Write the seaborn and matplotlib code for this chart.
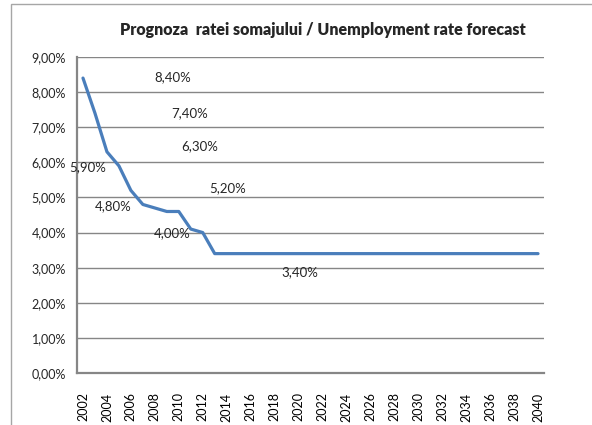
import numpy as np
import pandas as pd
import matplotlib
matplotlib.use("Agg")
import matplotlib.pyplot as plt
import seaborn as sns
from matplotlib.patches import Rectangle
from matplotlib.ticker import FuncFormatter, FixedLocator

# date
years = [2002, 2003, 2004, 2005, 2006, 2007, 2008, 2009, 2010, 2011, 2012,
         2013, 2014, 2015, 2016, 2017, 2018, 2019, 2020, 2021, 2022, 2023,
         2024, 2025, 2026, 2027, 2028, 2029, 2030, 2031, 2032, 2033, 2034,
         2035, 2036, 2037, 2038, 2039, 2040]
rate = [8.4, 7.4, 6.3, 5.9, 5.2, 4.8, 4.7, 4.6, 4.6, 4.1, 4.0,
        3.4, 3.4, 3.4, 3.4, 3.4, 3.4, 3.4, 3.4, 3.4, 3.4, 3.4,
        3.4, 3.4, 3.4, 3.4, 3.4, 3.4, 3.4, 3.4, 3.4, 3.4, 3.4,
        3.4, 3.4, 3.4, 3.4, 3.4, 3.4]
labelled_years = [2002, 2003, 2004, 2005, 2006, 2007, 2012, 2013]
title = "Prognoza  ratei somajului / Unemployment rate forecast"

sns.set_style("white")
plt.rcParams["font.family"] = ["Lato", "DejaVu Sans"]

df = pd.DataFrame({"an": years, "rata": rate})

fig = plt.figure(figsize=(5.92, 4.25), dpi=100)
ax = fig.add_axes([77 / 592, 1 - 373 / 425, 467 / 592, 316 / 425])

grid_col = "#868686"
sns.lineplot(data=df, x="an", y="rata", ax=ax, color="#4a7ebb", linewidth=2.3)

ax.set_xlim(2001.5, 2040.5)
ax.set_ylim(0, 9)
ax.set_yticks(np.arange(0, 10, 1))
ax.yaxis.set_major_formatter(FuncFormatter(lambda v, p: f"{v:.2f}%".replace(".", ",")))
ax.yaxis.grid(True, color=grid_col, linewidth=1)
ax.set_axisbelow(True)

ax.set_xticks([y for y in years if y % 2 == 0])
ax.set_xticklabels([str(y) for y in years if y % 2 == 0], rotation=90)
ax.xaxis.set_minor_locator(FixedLocator([y - 0.5 for y in years] + [years[-1] + 0.5]))
ax.tick_params(axis="x", which="major", length=0, pad=14, labelsize=9, colors="black")
ax.tick_params(axis="x", which="minor", length=4, color=grid_col, width=1)
ax.tick_params(axis="y", length=5, color=grid_col, width=1, labelsize=9, pad=3)
ax.set_xlabel("")
ax.set_ylabel("")

for s in ["top", "right"]:
    ax.spines[s].set_visible(False)
for s in ["left", "bottom"]:
    ax.spines[s].set_color(grid_col)
    ax.spines[s].set_linewidth(1.6)

# etichete (pozitii ca in original)
offsets = [(90, 1), (95, 0), (93, 6), (-31, -1), (97, 2), (-30, -2), (-31, -1), (85, -19)]
for yr, (dx, dy) in zip(labelled_years, offsets):
    v = rate[years.index(yr)]
    ax.annotate(f"{v:.2f}%".replace(".", ","), xy=(yr, v), xytext=(dx, dy),
                textcoords="offset pixels", ha="center", va="center", fontsize=9.5)

fig.text(323 / 592, 1 - 30 / 425, title, ha="center", va="center",
         fontsize=11.5, fontweight="heavy")

fig.patches.append(Rectangle((11 / 592, -0.1), 1.2, 1 - 4 / 425 + 0.1,
                             transform=fig.transFigure, fill=False,
                             edgecolor="#a6a6a6", linewidth=1))

fig.savefig("out.png", dpi=100)
